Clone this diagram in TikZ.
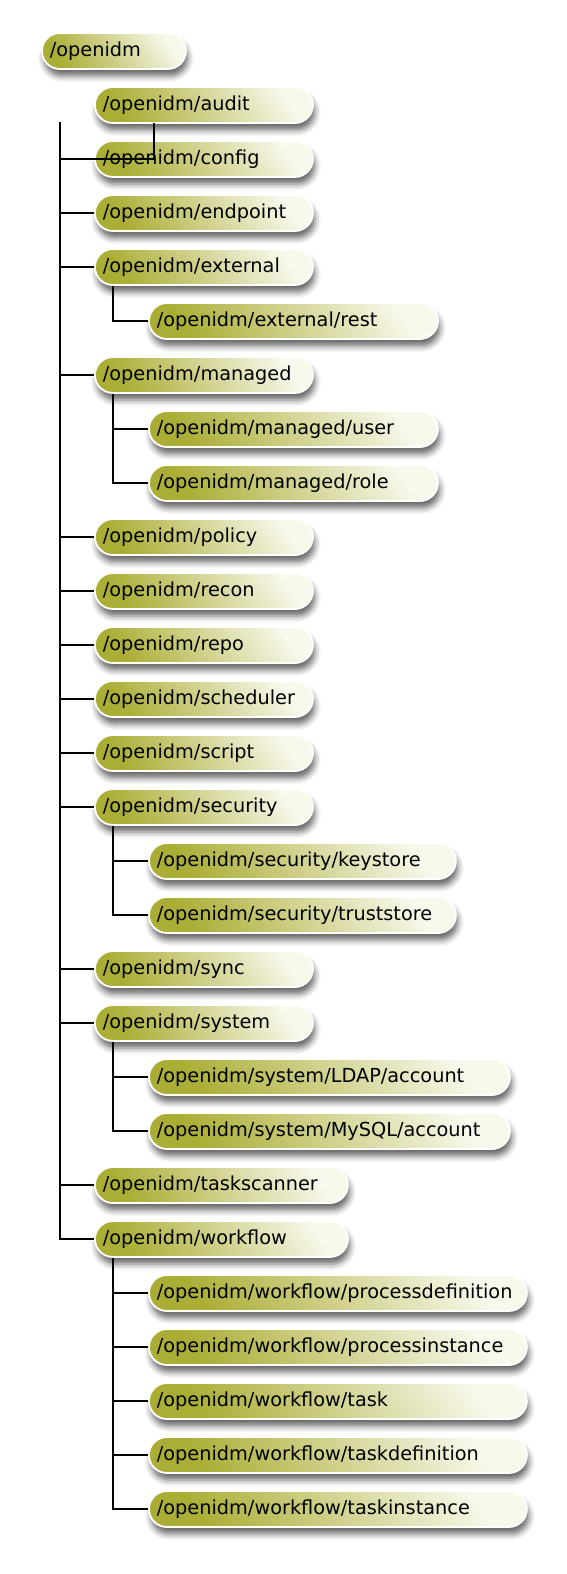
\documentclass[tikz,border=0pt]{standalone}
\usepackage{fontspec}
\setmainfont{DejaVu Sans}
\usetikzlibrary{shadows.blur}
\definecolor{olL}{HTML}{ABAE35}
\definecolor{olR}{HTML}{F8F8EC}
\tikzset{
  pill/.style={rounded corners=18pt, draw=white, line width=1.8pt,
    left color=olL, right color=olR, shading angle=125,
    minimum height=36pt, inner ysep=0pt, inner xsep=8pt, anchor=west, align=left,
    font=\fontsize{19.3}{22}\selectfont,
    blur shadow={shadow xshift=2pt, shadow yshift=-7pt, shadow blur radius=6pt, shadow opacity=60}},
  wroot/.style={text width=128pt},
  wa/.style={text width=202pt},
  wb/.style={text width=237pt},
  wc/.style={text width=273pt},
  wd/.style={text width=291pt},
  we/.style={text width=345pt},
  wf/.style={text width=362pt},
  conn/.style={line width=1.8pt, black}
}
\begin{document}
\begin{tikzpicture}[x=1pt,y=-1pt]
\useasboundingbox (0,0) rectangle (566,1574);
\node[pill,wroot] (root) at (41,51) {/openidm};
% level 1
\node[pill,wa] (audit) at (94,105) {/openidm/audit};
\node[pill,wa] (config) at (94,159) {/openidm/config};
\node[pill,wa] (endpoint) at (94,213) {/openidm/endpoint};
\node[pill,wa] (external) at (94,267) {/openidm/external};
\node[pill,wc] (rest) at (148,321) {/openidm/external/rest};
\node[pill,wa] (managed) at (94,375) {/openidm/managed};
\node[pill,wc] (user) at (148,429) {/openidm/managed/user};
\node[pill,wc] (role) at (148,483) {/openidm/managed/role};
\node[pill,wa] (policy) at (94,537) {/openidm/policy};
\node[pill,wa] (recon) at (94,591) {/openidm/recon};
\node[pill,wa] (repo) at (94,645) {/openidm/repo};
\node[pill,wa] (scheduler) at (94,699) {/openidm/scheduler};
\node[pill,wa] (script) at (94,753) {/openidm/script};
\node[pill,wa] (security) at (94,807) {/openidm/security};
\node[pill,wd] (keystore) at (148,861) {/openidm/security/keystore};
\node[pill,wd] (truststore) at (148,915) {/openidm/security/truststore};
\node[pill,wa] (sync) at (94,969) {/openidm/sync};
\node[pill,wa] (system) at (94,1023) {/openidm/system};
\node[pill,we] (ldap) at (148,1077) {/openidm/system/LDAP/account};
\node[pill,we] (mysql) at (148,1131) {/openidm/system/MySQL/account};
\node[pill,wb] (taskscanner) at (94,1185) {/openidm/taskscanner};
\node[pill,wb] (workflow) at (94,1239) {/openidm/workflow};
\node[pill,wf] (pdef) at (148,1293) {/openidm/workflow/processdefinition};
\node[pill,wf] (pinst) at (148,1347) {/openidm/workflow/processinstance};
\node[pill,wf] (task) at (148,1401) {/openidm/workflow/task};
\node[pill,wf] (tdef) at (148,1455) {/openidm/workflow/taskdefinition};
\node[pill,wf] (tinst) at (148,1509) {/openidm/workflow/taskinstance};
% connectors
\coordinate (mtop) at (60,122);
\coordinate (sx) at (113,0);
\coordinate (ac) at (154,123);
\draw[conn] (mtop) |- (workflow.west);
\draw[conn] (ac) |- (mtop |- config.west);
\foreach \n in {endpoint,external,managed,policy,recon,repo,scheduler,script,security,sync,system,taskscanner}
  \draw[conn] (mtop |- \n.west) -- (\n.west);
% subtrees
\draw[conn] (external.south -| sx) |- (rest.west);
\draw[conn] (managed.south -| sx) |- (role.west);
\draw[conn] (sx |- user.west) -- (user.west);
\draw[conn] (security.south -| sx) |- (truststore.west);
\draw[conn] (sx |- keystore.west) -- (keystore.west);
\draw[conn] (system.south -| sx) |- (mysql.west);
\draw[conn] (sx |- ldap.west) -- (ldap.west);
\draw[conn] (workflow.south -| sx) |- (tinst.west);
\foreach \n in {pdef,pinst,task,tdef}
  \draw[conn] (sx |- \n.west) -- (\n.west);
\end{tikzpicture}
\end{document}
